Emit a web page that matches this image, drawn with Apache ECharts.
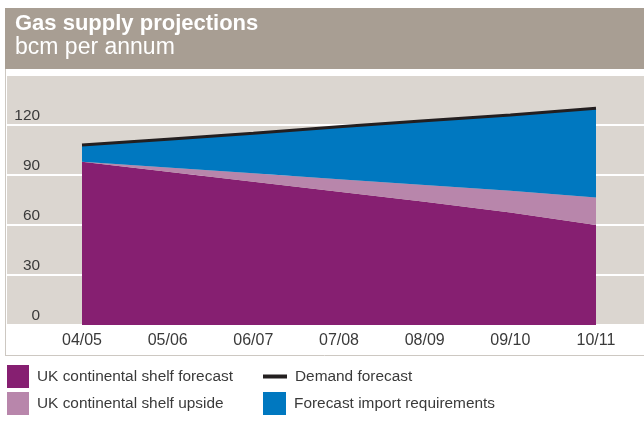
<!DOCTYPE html>
<html>
<head>
<meta charset="utf-8">
<script src="https://cdn.jsdelivr.net/npm/echarts@6/dist/echarts.min.js"></script>
<style>
  html, body { margin: 0; padding: 0; background: #ffffff; }
  #chart { width: 644px; height: 440px; }
</style>
</head>
<body>
<div id="chart"></div>
<script>
// Financial years shown along the bottom
const categories = ['04/05', '05/06', '06/07', '07/08', '08/09', '09/10', '10/11'];

// bcm per annum
const shelfForecast = [98, 92, 86, 80, 74, 67.5, 60];
const shelfUpside = [0, 2.5, 5, 7.5, 10, 13, 16.5];
const importRequirements = [10, 17, 24, 31.5, 38.5, 45.5, 53.5];
const demandForecast = [108, 111.5, 115, 119, 122.5, 126, 130];

// Value axis ticks
const yTicks = [0, 30, 60, 90, 120];

const FONT = '"Liberation Sans", Arial, Helvetica, sans-serif';
const TEXT = '#3a3a3a';

const legendText = { color: TEXT, fontSize: 15.4, fontFamily: FONT, padding: [0, 0, 0, 3] };

const chart = echarts.init(document.getElementById('chart'), null, { renderer: 'canvas' });

chart.setOption({
  animation: false,
  backgroundColor: '#ffffff',
  textStyle: { fontFamily: FONT },
  title: {
    text: 'Gas supply projections',
    subtext: 'bcm per annum',
    left: 10,
    top: 8,
    itemGap: 2,
    textStyle: { color: '#ffffff', fontSize: 22, fontWeight: 'bold', fontFamily: FONT, lineHeight: 22 },
    subtextStyle: { color: '#ffffff', fontSize: 23, fontWeight: 'normal', fontFamily: FONT, lineHeight: 22 }
  },
  graphic: [
    // header band
    { type: 'rect', z: -10, shape: { x: 5, y: 8, width: 639, height: 61 }, style: { fill: '#a89e93' } },
    // plot backdrop
    { type: 'rect', z: -10, shape: { x: 7, y: 76, width: 637, height: 250 }, style: { fill: '#dbd6d0' } },
    // frame round the category labels
    { type: 'line', z: -9, shape: { x1: 5.5, y1: 69, x2: 5.5, y2: 355.5 }, style: { stroke: '#cdc8c2', lineWidth: 1 } },
    { type: 'line', z: -9, shape: { x1: 5, y1: 355.5, x2: 644, y2: 355.5 }, style: { stroke: '#cdc8c2', lineWidth: 1 } }
  ],
  legend: [
    {
      orient: 'vertical',
      left: 7,
      top: 365,
      padding: 0,
      itemWidth: 22,
      itemHeight: 23,
      itemGap: 4,
      textStyle: legendText,
      data: [
        { name: 'UK continental shelf forecast', icon: 'rect' },
        { name: 'UK continental shelf upside', icon: 'rect' }
      ]
    },
    {
      // thick bar key for the demand line
      left: 263,
      top: 369,
      padding: 0,
      itemWidth: 24,
      itemHeight: 4,
      textStyle: legendText,
      data: [{ name: 'Demand forecast', icon: 'rect' }]
    },
    {
      left: 263,
      top: 392,
      padding: 0,
      itemWidth: 23,
      itemHeight: 23,
      textStyle: legendText,
      data: [{ name: 'Forecast import requirements', icon: 'rect' }]
    }
  ],
  grid: [
    // full-width grid carrying the horizontal rules and value labels
    { left: 7, right: 0, top: 125, bottom: 115 },
    // grid holding the stacked areas
    { left: 82, right: 48, top: 75, bottom: 115 }
  ],
  xAxis: [
    { gridIndex: 0, type: 'category', show: false, data: categories },
    {
      gridIndex: 1,
      type: 'category',
      data: categories,
      boundaryGap: false,
      axisLine: { show: false },
      axisTick: { show: false },
      axisLabel: { color: TEXT, fontSize: 16, fontFamily: FONT, margin: 8 }
    }
  ],
  yAxis: [
    {
      gridIndex: 0,
      type: 'value',
      min: yTicks[0],
      max: yTicks[yTicks.length - 1],
      interval: yTicks[1] - yTicks[0],
      axisLine: { show: false },
      axisTick: { show: false },
      splitLine: { show: true, lineStyle: { color: '#ffffff', width: 2 } },
      axisLabel: {
        color: TEXT,
        fontSize: 15.4,
        fontFamily: FONT,
        align: 'right',
        verticalAlign: 'bottom',
        margin: -33,
        padding: [0, 0, 2, 0]
      }
    },
    { gridIndex: 1, type: 'value', min: 0, max: 150, show: false, splitLine: { show: false } }
  ],
  series: [
    {
      name: 'UK continental shelf forecast',
      type: 'line',
      xAxisIndex: 1,
      yAxisIndex: 1,
      stack: 'supply',
      symbol: 'none',
      lineStyle: { width: 0 },
      areaStyle: { color: '#861f71', opacity: 1 },
      itemStyle: { color: '#861f71' },
      data: shelfForecast
    },
    {
      name: 'UK continental shelf upside',
      type: 'line',
      xAxisIndex: 1,
      yAxisIndex: 1,
      stack: 'supply',
      symbol: 'none',
      lineStyle: { width: 0 },
      areaStyle: { color: '#b886ab', opacity: 1 },
      itemStyle: { color: '#b886ab' },
      data: shelfUpside
    },
    {
      name: 'Forecast import requirements',
      type: 'line',
      xAxisIndex: 1,
      yAxisIndex: 1,
      stack: 'supply',
      symbol: 'none',
      lineStyle: { width: 0 },
      areaStyle: { color: '#0078c0', opacity: 1 },
      itemStyle: { color: '#0078c0' },
      data: importRequirements
    },
    {
      name: 'Demand forecast',
      type: 'line',
      xAxisIndex: 1,
      yAxisIndex: 1,
      symbol: 'none',
      z: 5,
      lineStyle: { color: '#231f20', width: 3 },
      itemStyle: { color: '#231f20' },
      data: demandForecast
    }
  ]
});
</script>
</body>
</html>
